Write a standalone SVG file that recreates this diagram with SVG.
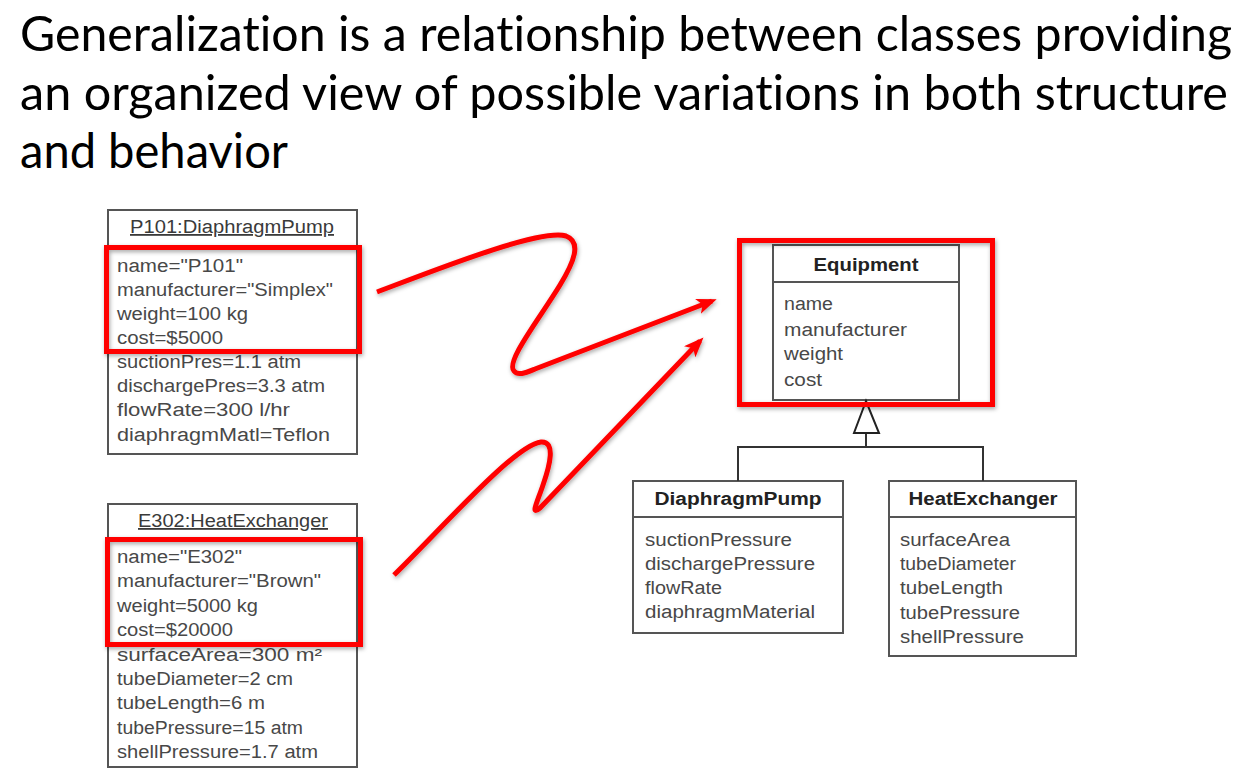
<svg xmlns="http://www.w3.org/2000/svg" width="1246" height="779" viewBox="0 0 1246 779">
  <style>
    .title { font-family: "Lato", "Open Sans", "Liberation Sans", sans-serif; font-size: 48px; fill: #000; font-variant-ligatures: none; }
    .box { fill: #fff; stroke: #555; stroke-width: 2; }
    .sep { stroke: #555; stroke-width: 2; }
    .txt { font-family: "Liberation Sans", Arial, sans-serif; font-size: 18px; fill: #484848; }
    .hdr { font-family: "Liberation Sans", Arial, sans-serif; font-size: 18px; fill: #3a3a3a; text-anchor: middle; }
    .cls { font-family: "Liberation Sans", Arial, sans-serif; font-size: 18px; font-weight: bold; fill: #222; text-anchor: middle; }
    .hl { fill: none; stroke: #ff0000; stroke-width: 5; filter: url(#shadow); }
    .squiggle { fill: none; stroke: #ff0000; stroke-width: 5; stroke-linejoin: round; filter: url(#shadow); }
    .gen { fill: none; stroke: #333; stroke-width: 2; }
  </style>
  <defs>
    <filter id="shadow" x="-10%" y="-10%" width="130%" height="130%">
      <feDropShadow dx="1" dy="2" stdDeviation="2" flood-color="#000" flood-opacity="0.35"/>
    </filter>
    <marker id="redhead" viewBox="0 0 20 16" refX="15" refY="8" markerWidth="20" markerHeight="16" markerUnits="userSpaceOnUse" orient="auto">
      <path d="M0,0 L20,8 L0,16 L5,8 z" fill="#ff0000"/>
    </marker>
  </defs>

  <rect width="1246" height="779" fill="#fff"/>

  <!-- heading -->
  <g id="heading">
    <text class="title" x="20" y="51" textLength="1212" lengthAdjust="spacingAndGlyphs">Generalization is a relationship between classes providing</text>
    <text class="title" x="20" y="110" textLength="1208" lengthAdjust="spacingAndGlyphs">an organized view of possible variations in both structure</text>
    <text class="title" x="20" y="168" textLength="268" lengthAdjust="spacingAndGlyphs">and behavior</text>
  </g>

  <!-- instance: P101 -->
  <g id="p101">
    <rect class="box" x="108" y="210" width="249" height="244"/>
    <text class="hdr" x="232" y="233" text-decoration="underline" textLength="204" lengthAdjust="spacingAndGlyphs">P101:DiaphragmPump</text>
    <text class="txt" x="117" y="272" textLength="126" lengthAdjust="spacingAndGlyphs">name="P101"</text>
    <text class="txt" x="117" y="296" textLength="216" lengthAdjust="spacingAndGlyphs">manufacturer="Simplex"</text>
    <text class="txt" x="117" y="320" textLength="131" lengthAdjust="spacingAndGlyphs">weight=100 kg</text>
    <text class="txt" x="117" y="344" textLength="106" lengthAdjust="spacingAndGlyphs">cost=$5000</text>
    <text class="txt" x="117" y="368" textLength="184" lengthAdjust="spacingAndGlyphs">suctionPres=1.1 atm</text>
    <text class="txt" x="117" y="392" textLength="208" lengthAdjust="spacingAndGlyphs">dischargePres=3.3 atm</text>
    <text class="txt" x="117" y="416" textLength="173" lengthAdjust="spacingAndGlyphs">flowRate=300 l/hr</text>
    <text class="txt" x="117" y="441" textLength="213" lengthAdjust="spacingAndGlyphs">diaphragmMatl=Teflon</text>
  </g>

  <!-- instance: E302 -->
  <g id="e302">
    <rect class="box" x="108" y="504" width="249" height="263"/>
    <text class="hdr" x="233" y="527" text-decoration="underline" textLength="190" lengthAdjust="spacingAndGlyphs">E302:HeatExchanger</text>
    <text class="txt" x="117" y="563" textLength="125" lengthAdjust="spacingAndGlyphs">name="E302"</text>
    <text class="txt" x="117" y="587" textLength="204" lengthAdjust="spacingAndGlyphs">manufacturer="Brown"</text>
    <text class="txt" x="117" y="612" textLength="141" lengthAdjust="spacingAndGlyphs">weight=5000 kg</text>
    <text class="txt" x="117" y="636" textLength="116" lengthAdjust="spacingAndGlyphs">cost=$20000</text>
    <text class="txt" x="117" y="661" textLength="205" lengthAdjust="spacingAndGlyphs">surfaceArea=300 m²</text>
    <text class="txt" x="117" y="685" textLength="176" lengthAdjust="spacingAndGlyphs">tubeDiameter=2 cm</text>
    <text class="txt" x="117" y="709" textLength="148" lengthAdjust="spacingAndGlyphs">tubeLength=6 m</text>
    <text class="txt" x="117" y="734" textLength="186" lengthAdjust="spacingAndGlyphs">tubePressure=15 atm</text>
    <text class="txt" x="117" y="758" textLength="201" lengthAdjust="spacingAndGlyphs">shellPressure=1.7 atm</text>
  </g>

  <!-- class: Equipment -->
  <g id="equipment">
    <rect class="box" x="773" y="245" width="186" height="155"/>
    <line class="sep" x1="773" y1="282" x2="959" y2="282"/>
    <text class="cls" x="866" y="271" textLength="105" lengthAdjust="spacingAndGlyphs">Equipment</text>
    <text class="txt" x="784" y="310" textLength="49" lengthAdjust="spacingAndGlyphs">name</text>
    <text class="txt" x="784" y="336" textLength="123" lengthAdjust="spacingAndGlyphs">manufacturer</text>
    <text class="txt" x="784" y="360" textLength="59" lengthAdjust="spacingAndGlyphs">weight</text>
    <text class="txt" x="784" y="386" textLength="38" lengthAdjust="spacingAndGlyphs">cost</text>
  </g>

  <!-- class: DiaphragmPump -->
  <g id="diaphragmPump">
    <rect class="box" x="633" y="481" width="210" height="152"/>
    <line class="sep" x1="633" y1="517" x2="843" y2="517"/>
    <text class="cls" x="738" y="505" textLength="167" lengthAdjust="spacingAndGlyphs">DiaphragmPump</text>
    <text class="txt" x="645" y="546" textLength="147" lengthAdjust="spacingAndGlyphs">suctionPressure</text>
    <text class="txt" x="645" y="570" textLength="170" lengthAdjust="spacingAndGlyphs">dischargePressure</text>
    <text class="txt" x="645" y="594" textLength="77" lengthAdjust="spacingAndGlyphs">flowRate</text>
    <text class="txt" x="645" y="618" textLength="170" lengthAdjust="spacingAndGlyphs">diaphragmMaterial</text>
  </g>

  <!-- class: HeatExchanger -->
  <g id="heatExchanger">
    <rect class="box" x="889" y="481" width="187" height="175"/>
    <line class="sep" x1="889" y1="517" x2="1076" y2="517"/>
    <text class="cls" x="983" y="505" textLength="149" lengthAdjust="spacingAndGlyphs">HeatExchanger</text>
    <text class="txt" x="900" y="546" textLength="110" lengthAdjust="spacingAndGlyphs">surfaceArea</text>
    <text class="txt" x="900" y="570" textLength="116" lengthAdjust="spacingAndGlyphs">tubeDiameter</text>
    <text class="txt" x="900" y="594" textLength="103" lengthAdjust="spacingAndGlyphs">tubeLength</text>
    <text class="txt" x="900" y="619" textLength="120" lengthAdjust="spacingAndGlyphs">tubePressure</text>
    <text class="txt" x="900" y="643" textLength="124" lengthAdjust="spacingAndGlyphs">shellPressure</text>
  </g>

  <!-- connectors -->
  <g id="connectors">
    <!-- generalization tree -->
    <polyline class="gen" points="738,481 738,447 983,447 983,481"/>
    <line class="gen" x1="866" y1="447" x2="866" y2="433"/>
    <polygon points="866,401 854,433 879,433" fill="#fff" stroke="#222" stroke-width="2" stroke-linejoin="miter"/>

    <!-- red highlight frames -->
    <rect class="hl" x="106.5" y="247.5" width="253" height="104"/>
    <rect class="hl" x="107.5" y="539.5" width="253" height="105"/>
    <rect class="hl" x="739.5" y="240.5" width="253" height="164"/>

    <!-- red squiggle arrows -->
    <path class="squiggle" marker-end="url(#redhead)" d="M377,292 C430,272 540,228 566,236 C582,242 574,262 560,285 C540,318 505,362 514,371 C518,376 525,373 535,369 L712,301"/>
    <path class="squiggle" marker-end="url(#redhead)" d="M394,575 C445,525 515,445 541,442 C556,441 550,465 543,485 C537,503 530,516 540,508 L700,341"/>
  </g>
</svg>
